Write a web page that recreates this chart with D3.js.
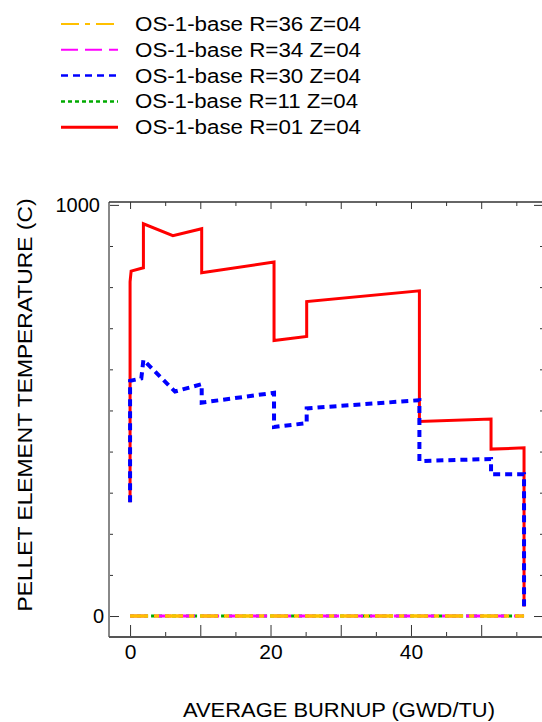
<!DOCTYPE html>
<html lang="en">
<head>
    <meta charset="UTF-8">
    <title>Pellet element temperature</title>
    <script src="https://d3js.org/d3.v7.min.js"></script>
</head>
<body>
    <div id="container"></div>
</body>

<style>
body {
    margin: 0 0;
    background: #fff;
}
svg text {
    font-family: "Liberation Sans", Arial, sans-serif;
    fill: #000;
}
</style>

<script>
    // series, in legend order
    const seriesNames = [
        'OS-1-base R=36 Z=04',
        'OS-1-base R=34 Z=04',
        'OS-1-base R=30 Z=04',
        'OS-1-base R=11 Z=04',
        'OS-1-base R=01 Z=04'
    ]

    // burnup (GWD/TU) and temperature (C)
    const burnupR36 = [0, 56.1]
    const tempR36 = [0, 0]
    const burnupR34 = [0, 56.1]
    const tempR34 = [0, 0]
    const burnupR30 = [0, 0, 1.6, 1.9, 6.4, 10.2, 10.2, 20.5, 20.5, 25.15, 25.15, 41.2, 41.2, 51.4, 51.4, 56.1, 56.1]
    const tempR30 = [277, 572, 578, 623, 546, 564, 519, 543, 460, 469, 505, 525, 377, 382, 345, 345, 20]
    const burnupR11 = [0, 56.1]
    const tempR11 = [0, 0]
    const burnupR01 = [0, 0, 0.15, 1.9, 1.9, 6.1, 10.2, 10.2, 20.5, 20.5, 25.15, 25.15, 41.2, 41.2, 51.4, 51.4, 56.1, 56.1]
    const tempR01 = [277, 813, 839, 847, 954, 925, 942, 835, 861, 670, 680, 765, 791, 473, 479, 406, 409, 23]

    // ticks
    const xMajorTicks = [0, 10, 20, 30, 40, 50]
    const xMinorTicks = [5, 15, 25, 35, 45, 55]
    const xLabels = [0, 20, 40]
    const yMajorTicks = [0, 1000]
    const yMinorTicks = [100, 200, 300, 400, 500, 600, 700, 800, 900]

    const width = 542
    const height = 722

    const svg = d3.select('#container')
        .append('svg')
        .attr('width', width)
        .attr('height', height)

    const x = d3.scaleLinear().domain([-3, 58.8]).range([109, 543])
    const y = d3.scaleLinear().domain([-51, 1007]).range([637, 202])

    // styles per series (legend order)
    const styles = [
        {color: '#FFC000', dash: '18,6,5,6', legendWidth: 2, width: 3.5},
        {color: '#FF00FF', dash: '17,7', legendWidth: 2, width: 3},
        {color: '#0000FF', dash: '7,5', legendWidth: 2.5, width: 4},
        {color: '#00AA00', dash: '4,3', legendWidth: 2.5, width: 3},
        {color: '#FF0000', dash: null, legendWidth: 3, width: 3}
    ]
    const seriesData = [
        d3.zip(burnupR36, tempR36),
        d3.zip(burnupR34, tempR34),
        d3.zip(burnupR30, tempR30),
        d3.zip(burnupR11, tempR11),
        d3.zip(burnupR01, tempR01)
    ]

    // 坐标轴
    function styleAxis(g, sw) {
        g.select('.domain').remove()
        g.selectAll('.tick line').attr('stroke', '#333').attr('stroke-width', sw || 1)
        g.selectAll('text').attr('font-size', 20)
    }

    const noLabel = () => ''

    // bottom
    svg.append('g')
        .attr('transform', 'translate(0,637)')
        .call(d3.axisBottom(x).tickValues(xMajorTicks).tickSizeInner(-12).tickSizeOuter(0).tickPadding(7)
            .tickFormat(d => xLabels.includes(d) ? d : ''))
        .call(g => {
            styleAxis(g)
            g.selectAll('text').attr('font-size', 21)
        })
    svg.append('g')
        .attr('transform', 'translate(0,637)')
        .call(d3.axisBottom(x).tickValues(xMinorTicks).tickSizeInner(-5).tickSizeOuter(0).tickFormat(noLabel))
        .call(styleAxis)

    // top
    svg.append('g')
        .attr('transform', 'translate(0,202)')
        .call(d3.axisTop(x).tickValues(xMajorTicks).tickSizeInner(-7).tickSizeOuter(0).tickFormat(noLabel))
        .call(styleAxis)
    svg.append('g')
        .attr('transform', 'translate(0,202)')
        .call(d3.axisTop(x).tickValues(xMinorTicks).tickSizeInner(-4).tickSizeOuter(0).tickFormat(noLabel))
        .call(styleAxis)

    // left
    svg.append('g')
        .attr('transform', 'translate(109,0)')
        .call(d3.axisLeft(y).tickValues(yMajorTicks).tickSizeInner(-10).tickSizeOuter(0).tickPadding(9)
            .tickFormat(d3.format('d')))
        .call(g => {
            styleAxis(g)
            g.selectAll('text').filter(d => d === 0).attr('dx', 4)
        })
    svg.append('g')
        .attr('transform', 'translate(109,0)')
        .call(d3.axisLeft(y).tickValues(yMinorTicks).tickSizeInner(-4).tickSizeOuter(0).tickFormat(noLabel))
        .call(styleAxis)

    // right (frame line falls just outside the window)
    svg.append('g')
        .attr('transform', 'translate(543,0)')
        .call(d3.axisRight(y).tickValues(yMajorTicks).tickSizeInner(-9).tickSizeOuter(0).tickFormat(noLabel))
        .call(styleAxis)
    svg.append('g')
        .attr('transform', 'translate(543,0)')
        .call(d3.axisRight(y).tickValues(yMinorTicks).tickSizeInner(-3).tickSizeOuter(0).tickFormat(noLabel))
        .call(styleAxis)

    // frame lines
    const frame = svg.append('g').attr('fill', 'none')
    frame.append('line')
        .attr('x1', x.range()[0]).attr('x2', x.range()[0])
        .attr('y1', y.range()[1]).attr('y2', y.range()[0])
        .attr('stroke', '#888').attr('stroke-width', 2)
    frame.append('line')
        .attr('x1', x.range()[0]).attr('x2', x.range()[1])
        .attr('y1', y.range()[0]).attr('y2', y.range()[0])
        .attr('stroke', '#555').attr('stroke-width', 2)
    frame.append('line')
        .attr('x1', x.range()[0]).attr('x2', x.range()[1])
        .attr('y1', y.range()[1]).attr('y2', y.range()[1])
        .attr('stroke', '#333').attr('stroke-width', 1.5)

    // 曲线: draw R=01 first, R=36 last
    const line = d3.line().x(d => x(d[0])).y(d => y(d[1]))
    const plot = svg.append('g').attr('fill', 'none')
    for (let i = seriesData.length - 1; i >= 0; --i) {
        plot.append('path')
            .datum(seriesData[i])
            .attr('d', line)
            .attr('stroke', styles[i].color)
            .attr('stroke-width', styles[i].width)
            .attr('stroke-dasharray', styles[i].dash)
            .attr('stroke-linejoin', 'miter')
    }

    // axis titles
    svg.append('text')
        .attr('x', 339)
        .attr('y', 717)
        .attr('text-anchor', 'middle')
        .attr('font-size', 20)
        .attr('textLength', 312)
        .attr('lengthAdjust', 'spacingAndGlyphs')
        .text('AVERAGE BURNUP (GWD/TU)')

    svg.append('text')
        .attr('transform', 'translate(32,405) rotate(-90)')
        .attr('text-anchor', 'middle')
        .attr('font-size', 20)
        .attr('textLength', 413)
        .attr('lengthAdjust', 'spacingAndGlyphs')
        .text('PELLET ELEMENT TEMPERATURE (C)')

    // 图例
    const legend = svg.append('g')
    seriesNames.forEach(function(name, i) {
        const ly = 24 + i * 25.8
        legend.append('line')
            .attr('x1', 61).attr('x2', 118)
            .attr('y1', ly).attr('y2', ly)
            .attr('stroke', styles[i].color)
            .attr('stroke-width', styles[i].legendWidth)
            .attr('stroke-dasharray', styles[i].dash)
        legend.append('text')
            .attr('x', 135)
            .attr('y', ly + 7)
            .attr('font-size', 20)
            .attr('textLength', name.includes('R=11') ? 223 : 226)
            .attr('lengthAdjust', 'spacingAndGlyphs')
            .text(name)
    })
</script>
</html>
